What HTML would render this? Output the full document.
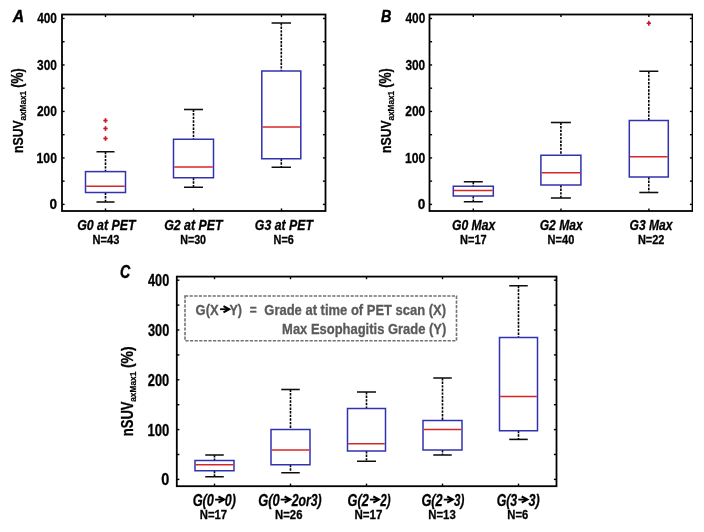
<!DOCTYPE html>
<html><head><meta charset="utf-8"><style>
html,body{margin:0;padding:0;background:#fff;}
svg{display:block;}
text{font-family:"Liberation Sans",sans-serif;font-weight:bold;}
</style></head><body>
<svg width="704" height="532" viewBox="0 0 704 532">
<defs><filter id="soft" x="0" y="0" width="100%" height="100%"><feGaussianBlur stdDeviation="0.3"/></filter></defs>
<rect width="704" height="532" fill="#fff"/>
<g filter="url(#soft)">
<line x1="62.00" y1="204.40" x2="64.60" y2="204.40" stroke="#000" stroke-width="1.4" />
<line x1="325.50" y1="204.40" x2="322.90" y2="204.40" stroke="#000" stroke-width="1.4" />
<line x1="62.00" y1="181.16" x2="64.60" y2="181.16" stroke="#000" stroke-width="1.4" />
<line x1="325.50" y1="181.16" x2="322.90" y2="181.16" stroke="#000" stroke-width="1.4" />
<line x1="62.00" y1="157.92" x2="64.60" y2="157.92" stroke="#000" stroke-width="1.4" />
<line x1="325.50" y1="157.92" x2="322.90" y2="157.92" stroke="#000" stroke-width="1.4" />
<line x1="62.00" y1="134.68" x2="64.60" y2="134.68" stroke="#000" stroke-width="1.4" />
<line x1="325.50" y1="134.68" x2="322.90" y2="134.68" stroke="#000" stroke-width="1.4" />
<line x1="62.00" y1="111.44" x2="64.60" y2="111.44" stroke="#000" stroke-width="1.4" />
<line x1="325.50" y1="111.44" x2="322.90" y2="111.44" stroke="#000" stroke-width="1.4" />
<line x1="62.00" y1="88.20" x2="64.60" y2="88.20" stroke="#000" stroke-width="1.4" />
<line x1="325.50" y1="88.20" x2="322.90" y2="88.20" stroke="#000" stroke-width="1.4" />
<line x1="62.00" y1="64.96" x2="64.60" y2="64.96" stroke="#000" stroke-width="1.4" />
<line x1="325.50" y1="64.96" x2="322.90" y2="64.96" stroke="#000" stroke-width="1.4" />
<line x1="62.00" y1="41.72" x2="64.60" y2="41.72" stroke="#000" stroke-width="1.4" />
<line x1="325.50" y1="41.72" x2="322.90" y2="41.72" stroke="#000" stroke-width="1.4" />
<line x1="62.00" y1="18.48" x2="64.60" y2="18.48" stroke="#000" stroke-width="1.4" />
<line x1="325.50" y1="18.48" x2="322.90" y2="18.48" stroke="#000" stroke-width="1.4" />
<line x1="105.50" y1="14.50" x2="105.50" y2="17.10" stroke="#000" stroke-width="1.4" />
<line x1="105.50" y1="211.00" x2="105.50" y2="208.40" stroke="#000" stroke-width="1.4" />
<line x1="193.50" y1="14.50" x2="193.50" y2="17.10" stroke="#000" stroke-width="1.4" />
<line x1="193.50" y1="211.00" x2="193.50" y2="208.40" stroke="#000" stroke-width="1.4" />
<line x1="281.50" y1="14.50" x2="281.50" y2="17.10" stroke="#000" stroke-width="1.4" />
<line x1="281.50" y1="211.00" x2="281.50" y2="208.40" stroke="#000" stroke-width="1.4" />
<rect x="62.00" y="14.50" width="263.50" height="196.50" fill="none" stroke="#000" stroke-width="1.8" />
<line x1="429.50" y1="204.40" x2="432.10" y2="204.40" stroke="#000" stroke-width="1.4" />
<line x1="692.50" y1="204.40" x2="689.90" y2="204.40" stroke="#000" stroke-width="1.4" />
<line x1="429.50" y1="181.16" x2="432.10" y2="181.16" stroke="#000" stroke-width="1.4" />
<line x1="692.50" y1="181.16" x2="689.90" y2="181.16" stroke="#000" stroke-width="1.4" />
<line x1="429.50" y1="157.92" x2="432.10" y2="157.92" stroke="#000" stroke-width="1.4" />
<line x1="692.50" y1="157.92" x2="689.90" y2="157.92" stroke="#000" stroke-width="1.4" />
<line x1="429.50" y1="134.68" x2="432.10" y2="134.68" stroke="#000" stroke-width="1.4" />
<line x1="692.50" y1="134.68" x2="689.90" y2="134.68" stroke="#000" stroke-width="1.4" />
<line x1="429.50" y1="111.44" x2="432.10" y2="111.44" stroke="#000" stroke-width="1.4" />
<line x1="692.50" y1="111.44" x2="689.90" y2="111.44" stroke="#000" stroke-width="1.4" />
<line x1="429.50" y1="88.20" x2="432.10" y2="88.20" stroke="#000" stroke-width="1.4" />
<line x1="692.50" y1="88.20" x2="689.90" y2="88.20" stroke="#000" stroke-width="1.4" />
<line x1="429.50" y1="64.96" x2="432.10" y2="64.96" stroke="#000" stroke-width="1.4" />
<line x1="692.50" y1="64.96" x2="689.90" y2="64.96" stroke="#000" stroke-width="1.4" />
<line x1="429.50" y1="41.72" x2="432.10" y2="41.72" stroke="#000" stroke-width="1.4" />
<line x1="692.50" y1="41.72" x2="689.90" y2="41.72" stroke="#000" stroke-width="1.4" />
<line x1="429.50" y1="18.48" x2="432.10" y2="18.48" stroke="#000" stroke-width="1.4" />
<line x1="692.50" y1="18.48" x2="689.90" y2="18.48" stroke="#000" stroke-width="1.4" />
<line x1="473.30" y1="14.50" x2="473.30" y2="17.10" stroke="#000" stroke-width="1.4" />
<line x1="473.30" y1="211.00" x2="473.30" y2="208.40" stroke="#000" stroke-width="1.4" />
<line x1="561.00" y1="14.50" x2="561.00" y2="17.10" stroke="#000" stroke-width="1.4" />
<line x1="561.00" y1="211.00" x2="561.00" y2="208.40" stroke="#000" stroke-width="1.4" />
<line x1="648.90" y1="14.50" x2="648.90" y2="17.10" stroke="#000" stroke-width="1.4" />
<line x1="648.90" y1="211.00" x2="648.90" y2="208.40" stroke="#000" stroke-width="1.4" />
<rect x="429.50" y="14.50" width="263.00" height="196.50" fill="none" stroke="#000" stroke-width="1.8" />
<line x1="176.80" y1="479.40" x2="179.40" y2="479.40" stroke="#000" stroke-width="1.4" />
<line x1="556.50" y1="479.40" x2="553.90" y2="479.40" stroke="#000" stroke-width="1.4" />
<line x1="176.80" y1="454.50" x2="179.40" y2="454.50" stroke="#000" stroke-width="1.4" />
<line x1="556.50" y1="454.50" x2="553.90" y2="454.50" stroke="#000" stroke-width="1.4" />
<line x1="176.80" y1="429.60" x2="179.40" y2="429.60" stroke="#000" stroke-width="1.4" />
<line x1="556.50" y1="429.60" x2="553.90" y2="429.60" stroke="#000" stroke-width="1.4" />
<line x1="176.80" y1="404.70" x2="179.40" y2="404.70" stroke="#000" stroke-width="1.4" />
<line x1="556.50" y1="404.70" x2="553.90" y2="404.70" stroke="#000" stroke-width="1.4" />
<line x1="176.80" y1="379.80" x2="179.40" y2="379.80" stroke="#000" stroke-width="1.4" />
<line x1="556.50" y1="379.80" x2="553.90" y2="379.80" stroke="#000" stroke-width="1.4" />
<line x1="176.80" y1="354.90" x2="179.40" y2="354.90" stroke="#000" stroke-width="1.4" />
<line x1="556.50" y1="354.90" x2="553.90" y2="354.90" stroke="#000" stroke-width="1.4" />
<line x1="176.80" y1="330.00" x2="179.40" y2="330.00" stroke="#000" stroke-width="1.4" />
<line x1="556.50" y1="330.00" x2="553.90" y2="330.00" stroke="#000" stroke-width="1.4" />
<line x1="176.80" y1="305.10" x2="179.40" y2="305.10" stroke="#000" stroke-width="1.4" />
<line x1="556.50" y1="305.10" x2="553.90" y2="305.10" stroke="#000" stroke-width="1.4" />
<line x1="176.80" y1="280.20" x2="179.40" y2="280.20" stroke="#000" stroke-width="1.4" />
<line x1="556.50" y1="280.20" x2="553.90" y2="280.20" stroke="#000" stroke-width="1.4" />
<line x1="214.50" y1="276.60" x2="214.50" y2="279.20" stroke="#000" stroke-width="1.4" />
<line x1="214.50" y1="486.20" x2="214.50" y2="483.60" stroke="#000" stroke-width="1.4" />
<line x1="290.50" y1="276.60" x2="290.50" y2="279.20" stroke="#000" stroke-width="1.4" />
<line x1="290.50" y1="486.20" x2="290.50" y2="483.60" stroke="#000" stroke-width="1.4" />
<line x1="366.50" y1="276.60" x2="366.50" y2="279.20" stroke="#000" stroke-width="1.4" />
<line x1="366.50" y1="486.20" x2="366.50" y2="483.60" stroke="#000" stroke-width="1.4" />
<line x1="442.50" y1="276.60" x2="442.50" y2="279.20" stroke="#000" stroke-width="1.4" />
<line x1="442.50" y1="486.20" x2="442.50" y2="483.60" stroke="#000" stroke-width="1.4" />
<line x1="518.50" y1="276.60" x2="518.50" y2="279.20" stroke="#000" stroke-width="1.4" />
<line x1="518.50" y1="486.20" x2="518.50" y2="483.60" stroke="#000" stroke-width="1.4" />
<rect x="176.80" y="276.60" width="379.70" height="209.60" fill="none" stroke="#000" stroke-width="1.8" />
<line x1="105.50" y1="151.75" x2="105.50" y2="171.60" stroke="#000" stroke-width="1.6" stroke-dasharray="2.4,1.2"/>
<line x1="105.50" y1="192.50" x2="105.50" y2="202.00" stroke="#000" stroke-width="1.6" stroke-dasharray="2.4,1.2"/>
<line x1="96.50" y1="151.75" x2="114.50" y2="151.75" stroke="#111" stroke-width="1.55" />
<line x1="96.50" y1="202.00" x2="114.50" y2="202.00" stroke="#111" stroke-width="1.55" />
<rect x="85.50" y="171.60" width="40.00" height="20.90" fill="none" stroke="#3030b0" stroke-width="1.5" />
<line x1="86.20" y1="186.20" x2="124.80" y2="186.20" stroke="#d82828" stroke-width="1.6" />
<line x1="103.30" y1="120.50" x2="107.70" y2="120.50" stroke="#d01e32" stroke-width="1.6" />
<line x1="105.50" y1="118.10" x2="105.50" y2="122.90" stroke="#d01e32" stroke-width="1.6" />
<rect x="104.40" y="119.40" width="2.2" height="2.2" fill="#c01a2c" transform="rotate(45 105.50 120.50)"/>
<line x1="103.30" y1="128.50" x2="107.70" y2="128.50" stroke="#d01e32" stroke-width="1.6" />
<line x1="105.50" y1="126.10" x2="105.50" y2="130.90" stroke="#d01e32" stroke-width="1.6" />
<rect x="104.40" y="127.40" width="2.2" height="2.2" fill="#c01a2c" transform="rotate(45 105.50 128.50)"/>
<line x1="103.30" y1="138.50" x2="107.70" y2="138.50" stroke="#d01e32" stroke-width="1.6" />
<line x1="105.50" y1="136.10" x2="105.50" y2="140.90" stroke="#d01e32" stroke-width="1.6" />
<rect x="104.40" y="137.40" width="2.2" height="2.2" fill="#c01a2c" transform="rotate(45 105.50 138.50)"/>
<line x1="193.50" y1="109.50" x2="193.50" y2="139.25" stroke="#000" stroke-width="1.6" stroke-dasharray="2.4,1.2"/>
<line x1="193.50" y1="177.75" x2="193.50" y2="187.25" stroke="#000" stroke-width="1.6" stroke-dasharray="2.4,1.2"/>
<line x1="184.00" y1="109.50" x2="203.00" y2="109.50" stroke="#111" stroke-width="1.55" />
<line x1="184.00" y1="187.25" x2="203.00" y2="187.25" stroke="#111" stroke-width="1.55" />
<rect x="173.50" y="139.25" width="40.00" height="38.50" fill="none" stroke="#3030b0" stroke-width="1.5" />
<line x1="174.20" y1="167.00" x2="212.80" y2="167.00" stroke="#d82828" stroke-width="1.6" />
<line x1="281.30" y1="23.00" x2="281.30" y2="71.00" stroke="#000" stroke-width="1.6" stroke-dasharray="2.4,1.2"/>
<line x1="281.30" y1="158.75" x2="281.30" y2="167.25" stroke="#000" stroke-width="1.6" stroke-dasharray="2.4,1.2"/>
<line x1="271.60" y1="23.00" x2="291.00" y2="23.00" stroke="#111" stroke-width="1.55" />
<line x1="271.60" y1="167.25" x2="291.00" y2="167.25" stroke="#111" stroke-width="1.55" />
<rect x="261.80" y="71.00" width="39.00" height="87.75" fill="none" stroke="#3030b0" stroke-width="1.5" />
<line x1="262.50" y1="127.00" x2="300.10" y2="127.00" stroke="#d82828" stroke-width="1.6" />
<line x1="473.30" y1="181.75" x2="473.30" y2="186.25" stroke="#000" stroke-width="1.6" stroke-dasharray="2.4,1.2"/>
<line x1="473.30" y1="196.00" x2="473.30" y2="201.75" stroke="#000" stroke-width="1.6" stroke-dasharray="2.4,1.2"/>
<line x1="463.80" y1="181.75" x2="482.80" y2="181.75" stroke="#111" stroke-width="1.55" />
<line x1="463.80" y1="201.75" x2="482.80" y2="201.75" stroke="#111" stroke-width="1.55" />
<rect x="453.30" y="186.25" width="40.00" height="9.75" fill="none" stroke="#3030b0" stroke-width="1.5" />
<line x1="454.00" y1="190.50" x2="492.60" y2="190.50" stroke="#d82828" stroke-width="1.6" />
<line x1="560.90" y1="122.50" x2="560.90" y2="155.25" stroke="#000" stroke-width="1.6" stroke-dasharray="2.4,1.2"/>
<line x1="560.90" y1="185.00" x2="560.90" y2="198.00" stroke="#000" stroke-width="1.6" stroke-dasharray="2.4,1.2"/>
<line x1="550.90" y1="122.50" x2="570.90" y2="122.50" stroke="#111" stroke-width="1.55" />
<line x1="550.90" y1="198.00" x2="570.90" y2="198.00" stroke="#111" stroke-width="1.55" />
<rect x="540.90" y="155.25" width="40.00" height="29.75" fill="none" stroke="#3030b0" stroke-width="1.5" />
<line x1="541.60" y1="172.75" x2="580.20" y2="172.75" stroke="#d82828" stroke-width="1.6" />
<line x1="648.80" y1="71.25" x2="648.80" y2="120.50" stroke="#000" stroke-width="1.6" stroke-dasharray="2.4,1.2"/>
<line x1="648.80" y1="177.00" x2="648.80" y2="192.50" stroke="#000" stroke-width="1.6" stroke-dasharray="2.4,1.2"/>
<line x1="639.30" y1="71.25" x2="658.30" y2="71.25" stroke="#111" stroke-width="1.55" />
<line x1="639.30" y1="192.50" x2="658.30" y2="192.50" stroke="#111" stroke-width="1.55" />
<rect x="629.30" y="120.50" width="39.00" height="56.50" fill="none" stroke="#3030b0" stroke-width="1.5" />
<line x1="630.00" y1="156.75" x2="667.60" y2="156.75" stroke="#d82828" stroke-width="1.6" />
<line x1="646.60" y1="23.25" x2="651.00" y2="23.25" stroke="#d01e32" stroke-width="1.6" />
<line x1="648.80" y1="20.85" x2="648.80" y2="25.65" stroke="#d01e32" stroke-width="1.6" />
<rect x="647.70" y="22.15" width="2.2" height="2.2" fill="#c01a2c" transform="rotate(45 648.80 23.25)"/>
<line x1="214.50" y1="455.00" x2="214.50" y2="460.50" stroke="#000" stroke-width="1.6" stroke-dasharray="2.4,1.2"/>
<line x1="214.50" y1="470.75" x2="214.50" y2="476.75" stroke="#000" stroke-width="1.6" stroke-dasharray="2.4,1.2"/>
<line x1="205.25" y1="455.00" x2="223.75" y2="455.00" stroke="#111" stroke-width="1.55" />
<line x1="205.25" y1="476.75" x2="223.75" y2="476.75" stroke="#111" stroke-width="1.55" />
<rect x="195.00" y="460.50" width="39.00" height="10.25" fill="none" stroke="#3030b0" stroke-width="1.5" />
<line x1="195.70" y1="464.75" x2="233.30" y2="464.75" stroke="#d82828" stroke-width="1.6" />
<line x1="290.50" y1="389.50" x2="290.50" y2="429.50" stroke="#000" stroke-width="1.6" stroke-dasharray="2.4,1.2"/>
<line x1="290.50" y1="464.75" x2="290.50" y2="472.75" stroke="#000" stroke-width="1.6" stroke-dasharray="2.4,1.2"/>
<line x1="281.25" y1="389.50" x2="299.75" y2="389.50" stroke="#111" stroke-width="1.55" />
<line x1="281.25" y1="472.75" x2="299.75" y2="472.75" stroke="#111" stroke-width="1.55" />
<rect x="271.00" y="429.50" width="39.00" height="35.25" fill="none" stroke="#3030b0" stroke-width="1.5" />
<line x1="271.70" y1="450.00" x2="309.30" y2="450.00" stroke="#d82828" stroke-width="1.6" />
<line x1="366.50" y1="392.00" x2="366.50" y2="408.50" stroke="#000" stroke-width="1.6" stroke-dasharray="2.4,1.2"/>
<line x1="366.50" y1="451.00" x2="366.50" y2="461.25" stroke="#000" stroke-width="1.6" stroke-dasharray="2.4,1.2"/>
<line x1="357.00" y1="392.00" x2="376.00" y2="392.00" stroke="#111" stroke-width="1.55" />
<line x1="357.00" y1="461.25" x2="376.00" y2="461.25" stroke="#111" stroke-width="1.55" />
<rect x="347.50" y="408.50" width="38.00" height="42.50" fill="none" stroke="#3030b0" stroke-width="1.5" />
<line x1="348.20" y1="443.75" x2="384.80" y2="443.75" stroke="#d82828" stroke-width="1.6" />
<line x1="442.50" y1="378.00" x2="442.50" y2="420.50" stroke="#000" stroke-width="1.6" stroke-dasharray="2.4,1.2"/>
<line x1="442.50" y1="450.00" x2="442.50" y2="455.00" stroke="#000" stroke-width="1.6" stroke-dasharray="2.4,1.2"/>
<line x1="433.25" y1="378.00" x2="451.75" y2="378.00" stroke="#111" stroke-width="1.55" />
<line x1="433.25" y1="455.00" x2="451.75" y2="455.00" stroke="#111" stroke-width="1.55" />
<rect x="423.00" y="420.50" width="39.00" height="29.50" fill="none" stroke="#3030b0" stroke-width="1.5" />
<line x1="423.70" y1="429.50" x2="461.30" y2="429.50" stroke="#d82828" stroke-width="1.6" />
<line x1="518.50" y1="285.75" x2="518.50" y2="337.50" stroke="#000" stroke-width="1.6" stroke-dasharray="2.4,1.2"/>
<line x1="518.50" y1="430.75" x2="518.50" y2="439.40" stroke="#000" stroke-width="1.6" stroke-dasharray="2.4,1.2"/>
<line x1="509.25" y1="285.75" x2="527.75" y2="285.75" stroke="#111" stroke-width="1.55" />
<line x1="509.25" y1="439.40" x2="527.75" y2="439.40" stroke="#111" stroke-width="1.55" />
<rect x="499.50" y="337.50" width="38.00" height="93.25" fill="none" stroke="#3030b0" stroke-width="1.5" />
<line x1="500.20" y1="396.50" x2="536.80" y2="396.50" stroke="#d82828" stroke-width="1.6" />
<text x="49.42" y="209.40" font-size="15.49" textLength="7.58" lengthAdjust="spacingAndGlyphs" fill="#000" stroke="#000" stroke-width="0.3" style="">0</text>
<text x="36.59" y="162.92" font-size="15.49" textLength="20.35" lengthAdjust="spacingAndGlyphs" fill="#000" stroke="#000" stroke-width="0.3" style="">100</text>
<text x="36.94" y="116.44" font-size="15.49" textLength="19.99" lengthAdjust="spacingAndGlyphs" fill="#000" stroke="#000" stroke-width="0.3" style="">200</text>
<text x="37.09" y="69.96" font-size="15.49" textLength="19.84" lengthAdjust="spacingAndGlyphs" fill="#000" stroke="#000" stroke-width="0.3" style="">300</text>
<text x="37.17" y="23.48" font-size="15.49" textLength="19.76" lengthAdjust="spacingAndGlyphs" fill="#000" stroke="#000" stroke-width="0.3" style="">400</text>
<text x="417.72" y="209.40" font-size="15.49" textLength="7.58" lengthAdjust="spacingAndGlyphs" fill="#000" stroke="#000" stroke-width="0.3" style="">0</text>
<text x="404.89" y="162.92" font-size="15.49" textLength="20.35" lengthAdjust="spacingAndGlyphs" fill="#000" stroke="#000" stroke-width="0.3" style="">100</text>
<text x="405.24" y="116.44" font-size="15.49" textLength="19.99" lengthAdjust="spacingAndGlyphs" fill="#000" stroke="#000" stroke-width="0.3" style="">200</text>
<text x="405.39" y="69.96" font-size="15.49" textLength="19.84" lengthAdjust="spacingAndGlyphs" fill="#000" stroke="#000" stroke-width="0.3" style="">300</text>
<text x="405.47" y="23.48" font-size="15.49" textLength="19.76" lengthAdjust="spacingAndGlyphs" fill="#000" stroke="#000" stroke-width="0.3" style="">400</text>
<text x="161.29" y="485.30" font-size="15.78" textLength="8.05" lengthAdjust="spacingAndGlyphs" fill="#000" stroke="#000" stroke-width="0.3" style="">0</text>
<text x="147.44" y="435.50" font-size="15.78" textLength="21.84" lengthAdjust="spacingAndGlyphs" fill="#000" stroke="#000" stroke-width="0.3" style="">100</text>
<text x="147.81" y="385.70" font-size="15.78" textLength="21.46" lengthAdjust="spacingAndGlyphs" fill="#000" stroke="#000" stroke-width="0.3" style="">200</text>
<text x="147.97" y="335.90" font-size="15.78" textLength="21.30" lengthAdjust="spacingAndGlyphs" fill="#000" stroke="#000" stroke-width="0.3" style="">300</text>
<text x="148.06" y="286.10" font-size="15.78" textLength="21.20" lengthAdjust="spacingAndGlyphs" fill="#000" stroke="#000" stroke-width="0.3" style="">400</text>
<text x="12.68" y="22.40" font-size="17.32" textLength="11.41" lengthAdjust="spacingAndGlyphs" fill="#000" stroke="#000" stroke-width="0.45" style="font-style:italic;">A</text>
<text x="381.11" y="22.10" font-size="16.89" textLength="10.36" lengthAdjust="spacingAndGlyphs" fill="#000" stroke="#000" stroke-width="0.45" style="font-style:italic;">B</text>
<text x="119.97" y="277.50" font-size="18.08" textLength="10.21" lengthAdjust="spacingAndGlyphs" fill="#000" stroke="#000" stroke-width="0.45" style="font-style:italic;">C</text>
<text x="77.16" y="229.90" font-size="14.35" textLength="58.51" lengthAdjust="spacingAndGlyphs" fill="#000" stroke="#000" stroke-width="0.3" style="font-style:italic;">G0 at PET</text>
<text x="164.16" y="229.90" font-size="14.35" textLength="58.51" lengthAdjust="spacingAndGlyphs" fill="#000" stroke="#000" stroke-width="0.3" style="font-style:italic;">G2 at PET</text>
<text x="254.86" y="229.90" font-size="14.35" textLength="58.11" lengthAdjust="spacingAndGlyphs" fill="#000" stroke="#000" stroke-width="0.3" style="font-style:italic;">G3 at PET</text>
<text x="452.07" y="229.90" font-size="14.35" textLength="43.17" lengthAdjust="spacingAndGlyphs" fill="#000" stroke="#000" stroke-width="0.3" style="font-style:italic;">G0 Max</text>
<text x="539.67" y="229.90" font-size="14.35" textLength="42.97" lengthAdjust="spacingAndGlyphs" fill="#000" stroke="#000" stroke-width="0.3" style="font-style:italic;">G2 Max</text>
<text x="629.57" y="229.90" font-size="14.35" textLength="42.97" lengthAdjust="spacingAndGlyphs" fill="#000" stroke="#000" stroke-width="0.3" style="font-style:italic;">G3 Max</text>
<text x="92.62" y="243.70" font-size="12.63" textLength="26.72" lengthAdjust="spacingAndGlyphs" fill="#000" stroke="#000" stroke-width="0.3" style="">N=43</text>
<text x="180.24" y="243.70" font-size="12.63" textLength="25.84" lengthAdjust="spacingAndGlyphs" fill="#000" stroke="#000" stroke-width="0.3" style="">N=30</text>
<text x="273.53" y="243.70" font-size="12.63" textLength="20.30" lengthAdjust="spacingAndGlyphs" fill="#000" stroke="#000" stroke-width="0.3" style="">N=6</text>
<text x="460.12" y="243.70" font-size="12.81" textLength="26.60" lengthAdjust="spacingAndGlyphs" fill="#000" stroke="#000" stroke-width="0.3" style="">N=17</text>
<text x="547.62" y="243.70" font-size="12.63" textLength="26.67" lengthAdjust="spacingAndGlyphs" fill="#000" stroke="#000" stroke-width="0.3" style="">N=40</text>
<text x="637.93" y="243.70" font-size="12.63" textLength="26.45" lengthAdjust="spacingAndGlyphs" fill="#000" stroke="#000" stroke-width="0.3" style="">N=22</text>
<text x="-0.55" y="0.00" font-size="15.35" textLength="32.77" lengthAdjust="spacingAndGlyphs" fill="#000" stroke="#000" stroke-width="0.3" style="" transform="translate(23.0,152.5) rotate(-90)">nSUV</text>
<text x="0.01" y="0.00" font-size="8.73" textLength="29.76" lengthAdjust="spacingAndGlyphs" fill="#000" stroke="#000" stroke-width="0.25" style="" transform="translate(26.0,120.6) rotate(-90)">axMax1</text>
<text x="-0.36" y="0.00" font-size="15.57" textLength="19.32" lengthAdjust="spacingAndGlyphs" fill="#000" stroke="#000" stroke-width="0.3" style="" transform="translate(23.0,87.4) rotate(-90)">(%)</text>
<text x="-0.55" y="0.00" font-size="15.35" textLength="32.77" lengthAdjust="spacingAndGlyphs" fill="#000" stroke="#000" stroke-width="0.3" style="" transform="translate(391.0,152.5) rotate(-90)">nSUV</text>
<text x="0.01" y="0.00" font-size="8.73" textLength="29.76" lengthAdjust="spacingAndGlyphs" fill="#000" stroke="#000" stroke-width="0.25" style="" transform="translate(394.0,120.6) rotate(-90)">axMax1</text>
<text x="-0.36" y="0.00" font-size="15.57" textLength="19.32" lengthAdjust="spacingAndGlyphs" fill="#000" stroke="#000" stroke-width="0.3" style="" transform="translate(391.0,87.4) rotate(-90)">(%)</text>
<text x="-0.60" y="0.00" font-size="16.43" textLength="34.72" lengthAdjust="spacingAndGlyphs" fill="#000" stroke="#000" stroke-width="0.3" style="" transform="translate(132.75,435.6) rotate(-90)">nSUV</text>
<text x="0.01" y="0.00" font-size="8.73" textLength="30.06" lengthAdjust="spacingAndGlyphs" fill="#000" stroke="#000" stroke-width="0.25" style="" transform="translate(135.8,401.8) rotate(-90)">axMax1</text>
<text x="-0.43" y="0.00" font-size="16.67" textLength="21.67" lengthAdjust="spacingAndGlyphs" fill="#000" stroke="#000" stroke-width="0.3" style="" transform="translate(132.75,367.7) rotate(-90)">(%)</text>
<text x="192.64" y="505.50" font-size="16.01" textLength="21.33" lengthAdjust="spacingAndGlyphs" fill="#000" stroke="#000" stroke-width="0.3" style="font-style:italic;">G(0</text>
<text x="224.84" y="505.50" font-size="16.01" textLength="11.07" lengthAdjust="spacingAndGlyphs" fill="#000" stroke="#000" stroke-width="0.3" style="font-style:italic;">0)</text>
<path d="M215.10,499.60 L223.60,499.60" stroke="#000" stroke-width="1.8" fill="none"/>
<path d="M218.50,496.50 L224.20,499.60 L218.50,502.70" stroke="#000" stroke-width="2" fill="none" stroke-linejoin="miter"/>
<text x="258.13" y="505.50" font-size="16.01" textLength="21.43" lengthAdjust="spacingAndGlyphs" fill="#000" stroke="#000" stroke-width="0.3" style="font-style:italic;">G(0</text>
<text x="291.65" y="505.50" font-size="16.01" textLength="30.06" lengthAdjust="spacingAndGlyphs" fill="#000" stroke="#000" stroke-width="0.3" style="font-style:italic;">2or3)</text>
<path d="M280.70,499.60 L289.70,499.60" stroke="#000" stroke-width="1.8" fill="none"/>
<path d="M284.60,496.50 L290.30,499.60 L284.60,502.70" stroke="#000" stroke-width="2" fill="none" stroke-linejoin="miter"/>
<text x="347.54" y="505.50" font-size="16.01" textLength="21.24" lengthAdjust="spacingAndGlyphs" fill="#000" stroke="#000" stroke-width="0.3" style="font-style:italic;">G(2</text>
<text x="380.34" y="505.50" font-size="16.01" textLength="10.35" lengthAdjust="spacingAndGlyphs" fill="#000" stroke="#000" stroke-width="0.3" style="font-style:italic;">2)</text>
<path d="M369.90,499.60 L378.40,499.60" stroke="#000" stroke-width="1.8" fill="none"/>
<path d="M373.30,496.50 L379.00,499.60 L373.30,502.70" stroke="#000" stroke-width="2" fill="none" stroke-linejoin="miter"/>
<text x="421.44" y="505.50" font-size="16.01" textLength="21.24" lengthAdjust="spacingAndGlyphs" fill="#000" stroke="#000" stroke-width="0.3" style="font-style:italic;">G(2</text>
<text x="453.97" y="505.50" font-size="16.01" textLength="10.32" lengthAdjust="spacingAndGlyphs" fill="#000" stroke="#000" stroke-width="0.3" style="font-style:italic;">3)</text>
<path d="M443.80,499.60 L452.30,499.60" stroke="#000" stroke-width="1.8" fill="none"/>
<path d="M447.20,496.50 L452.90,499.60 L447.20,502.70" stroke="#000" stroke-width="2" fill="none" stroke-linejoin="miter"/>
<text x="496.66" y="505.50" font-size="16.01" textLength="20.53" lengthAdjust="spacingAndGlyphs" fill="#000" stroke="#000" stroke-width="0.3" style="font-style:italic;">G(3</text>
<text x="528.46" y="505.50" font-size="16.01" textLength="11.26" lengthAdjust="spacingAndGlyphs" fill="#000" stroke="#000" stroke-width="0.3" style="font-style:italic;">3)</text>
<path d="M518.30,499.60 L526.80,499.60" stroke="#000" stroke-width="1.8" fill="none"/>
<path d="M521.70,496.50 L527.40,499.60 L521.70,502.70" stroke="#000" stroke-width="2" fill="none" stroke-linejoin="miter"/>
<text x="199.80" y="519.40" font-size="12.81" textLength="27.34" lengthAdjust="spacingAndGlyphs" fill="#000" stroke="#000" stroke-width="0.3" style="">N=17</text>
<text x="275.10" y="519.40" font-size="12.63" textLength="27.35" lengthAdjust="spacingAndGlyphs" fill="#000" stroke="#000" stroke-width="0.3" style="">N=26</text>
<text x="354.39" y="519.40" font-size="12.81" textLength="27.97" lengthAdjust="spacingAndGlyphs" fill="#000" stroke="#000" stroke-width="0.3" style="">N=17</text>
<text x="428.30" y="519.40" font-size="12.63" textLength="27.45" lengthAdjust="spacingAndGlyphs" fill="#000" stroke="#000" stroke-width="0.3" style="">N=13</text>
<text x="507.31" y="519.40" font-size="12.63" textLength="20.94" lengthAdjust="spacingAndGlyphs" fill="#000" stroke="#000" stroke-width="0.3" style="">N=6</text>
<rect x="185" y="296" width="271.5" height="44.8" fill="none" stroke="#737373" stroke-width="1.6" stroke-dasharray="3.2,1.4"/>
<text x="195.62" y="314.80" font-size="15.28" textLength="23.03" lengthAdjust="spacingAndGlyphs" fill="#5a5a5a" stroke="#5a5a5a" stroke-width="0.3" style="">G(X</text>
<path d="M220.10,309.20 L228.60,309.20" stroke="#000" stroke-width="1.8" fill="none"/>
<path d="M223.50,306.10 L229.20,309.20 L223.50,312.30" stroke="#000" stroke-width="2" fill="none" stroke-linejoin="miter"/>
<text x="229.44" y="314.80" font-size="15.28" textLength="12.63" lengthAdjust="spacingAndGlyphs" fill="#5a5a5a" stroke="#5a5a5a" stroke-width="0.3" style="">Y)</text>
<text x="249.76" y="314.80" font-size="14.80" textLength="6.98" lengthAdjust="spacingAndGlyphs" fill="#5a5a5a" stroke="#5a5a5a" stroke-width="0.3" style="">=</text>
<text x="264.32" y="314.80" font-size="15.28" textLength="181.77" lengthAdjust="spacingAndGlyphs" fill="#5a5a5a" stroke="#5a5a5a" stroke-width="0.3" style="">Grade at time of PET scan (X)</text>
<text x="282.09" y="333.80" font-size="15.28" textLength="164.20" lengthAdjust="spacingAndGlyphs" fill="#5a5a5a" stroke="#5a5a5a" stroke-width="0.3" style="">Max Esophagitis Grade (Y)</text>
</g>
</svg></body></html>
